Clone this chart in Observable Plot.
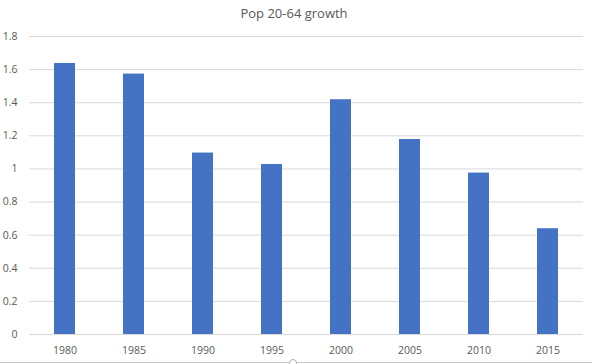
<!DOCTYPE html>
<html>
<head>
<meta charset="utf-8">
<script src="https://cdn.jsdelivr.net/npm/d3@7"></script>
<script src="https://cdn.jsdelivr.net/npm/@observablehq/plot@0.6"></script>
<style>
  html, body { margin: 0; padding: 0; background: #fff; }
  #wrap { position: relative; width: 592px; height: 364px; overflow: hidden; font-family: "Open Sans", sans-serif; }
  #title { position: absolute; left: 0; top: 0; width: 588px; height: 26px; text-align: center; font-size: 13px; line-height: 26px; color: #595959; }
  #chart { position: absolute; left: 0; top: 26px; }
  #frame { position: absolute; left: 0; top: 362px; width: 592px; height: 1px; background: #c8c8c8; }
  #handle { position: absolute; left: 289px; top: 359px; width: 6px; height: 6px; border: 1px solid #b0b0b0; border-radius: 50%; background: #fff; }
</style>
</head>
<body>
<div id="wrap">
  <div id="title">Pop 20-64 growth</div>
  <div id="chart"></div>
  <div id="frame"></div>
  <div id="handle"></div>
</div>
<script>
const years = ["1980", "1985", "1990", "1995", "2000", "2005", "2010", "2015"];
const growth = [1.637, 1.573, 1.096, 1.027, 1.418, 1.178, 0.975, 0.639];
const yTicks = [0, 0.2, 0.4, 0.6, 0.8, 1, 1.2, 1.4, 1.6, 1.8];
const yTickLabels = ["0", "0.2", "0.4", "0.6", "0.8", "1", "1.2", "1.4", "1.6", "1.8"];

const data = years.map((y, i) => ({year: y, value: growth[i]}));

const chart = Plot.plot({
  width: 592,
  height: 338,
  marginTop: 10,
  marginBottom: 30,
  marginLeft: 29,
  marginRight: 9,
  style: {fontFamily: "'Open Sans', sans-serif", fontSize: "10.5px", color: "#595959", background: "#fff"},
  x: {domain: years, paddingInner: 0.69, paddingOuter: 0.345, align: 0.5, label: null, tickSize: 0, tickPadding: 12},
  y: {domain: [0, 1.8], ticks: yTicks, tickFormat: d => yTickLabels[yTicks.indexOf(d)], label: null, tickSize: 0, tickPadding: 12},
  marks: [
    Plot.ruleY(yTicks, {stroke: "#d9d9d9", strokeWidth: 1, strokeOpacity: 1}),
    Plot.barY(data, {x: "year", y: "value", fill: "#4472C4"}),
    Plot.ruleY([0], {stroke: "#d9d9d9", strokeWidth: 1, strokeOpacity: 1})
  ]
});
document.getElementById("chart").appendChild(chart);
</script>
</body>
</html>
